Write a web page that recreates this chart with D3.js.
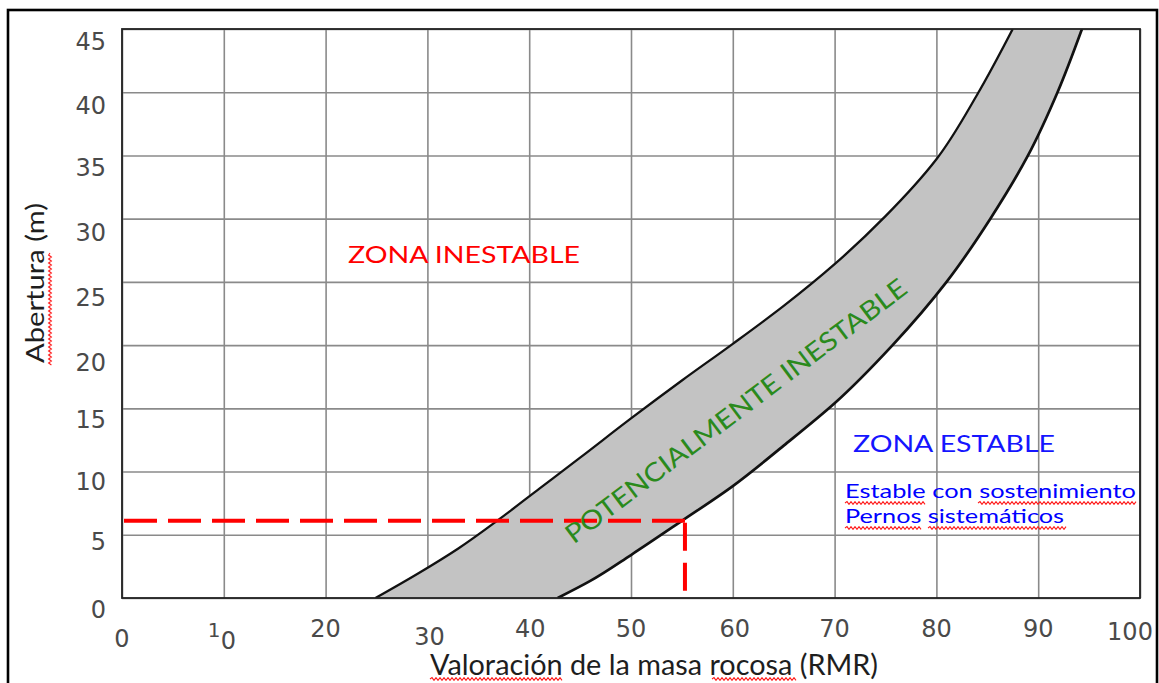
<!DOCTYPE html>
<html>
<head>
<meta charset="utf-8">
<script src="https://cdn.jsdelivr.net/npm/d3@7"></script>
<style>
  html, body { margin: 0; padding: 0; background: #fff; }
  svg { display: block; }
</style>
</head>
<body>
<svg id="chart" width="1159" height="683"></svg>
<script>
// ---------------- DATA ----------------
const xTickValues = [0, 10, 20, 30, 40, 50, 60, 70, 80, 90, 100];
const xTickLabels = ["0", "10", "20", "30", "40", "50", "60", "70", "80", "90", "100"];
const yTickValues = [0, 5, 10, 15, 20, 25, 30, 35, 40, 45];
const yTickLabels = ["0", "5", "10", "15", "20", "25", "30", "35", "40", "45"];

// Upper boundary (unstable / potentially unstable) : [RMR, span]
const upperRMR  = [24.9, 29, 33, 37, 41, 45, 50, 55, 60, 65, 70, 75, 80, 84, 87.5];
const upperSpan = [0, 1.9, 3.9, 6.2, 8.65, 11.1, 14.2, 17.2, 20.1, 23.1, 26.4, 30.2, 34.7, 39.8, 45];
// Lower boundary (potentially unstable / stable)
const lowerRMR  = [42.8, 46, 50, 55, 60, 65, 70, 75.7, 81, 85.3, 89, 91.9, 94.3];
const lowerSpan = [0, 1.35, 3.4, 6.1, 8.85, 12.05, 15.4, 20, 25, 30, 35, 40, 45];

// Design point (red dashed guides)
const designRMR = [55.3];
const designSpan = [6.1];

const xTitle = "Valoración de la masa rocosa (RMR)";
const yTitle = "Abertura (m)";
const zoneUnstable = "ZONA INESTABLE";
const zonePotential = "POTENCIALMENTE INESTABLE";
const zoneStable = "ZONA ESTABLE";
const stableNote1 = "Estable con sostenimiento";
const stableNote2 = "Pernos sistemáticos";

// ---------------- LAYOUT ----------------
const svg = d3.select("#chart");
const X0 = 122, X1 = 1140, Y0 = 598, Y1 = 29;
const x = d3.scaleLinear().domain([0, 100]).range([X0, X1]);
const y = d3.scaleLinear().domain([0, 45]).range([Y0, Y1]);

svg.append("rect").attr("width", 1159).attr("height", 683).attr("fill", "#fff");

// grid
const gridX = svg.append("g")
  .attr("transform", `translate(0,${Y0})`)
  .call(d3.axisBottom(x).tickValues(xTickValues).tickSize(-(Y0 - Y1)).tickFormat(""));
const gridY = svg.append("g")
  .attr("transform", `translate(${X0},0)`)
  .call(d3.axisLeft(y).tickValues(yTickValues).tickSize(-(X1 - X0)).tickFormat(""));
[gridX, gridY].forEach(g => {
  g.select(".domain").remove();
  g.selectAll("line").attr("stroke", "#8a8a8a").attr("stroke-width", 1.6);
});

// clip
svg.append("clipPath").attr("id", "plotClip")
  .append("rect").attr("x", X0).attr("y", Y1).attr("width", X1 - X0).attr("height", Y0 - Y1);

// band
const upperPts = upperRMR.map((v, i) => [v, upperSpan[i]]);
const lowerPts = lowerRMR.map((v, i) => [v, lowerSpan[i]]);
const line = d3.line().x(d => x(d[0])).y(d => y(d[1])).curve(d3.curveMonotoneY);
const bandD = line(upperPts) + "L" + line(lowerPts.slice().reverse()).slice(1) + "Z";
const plot = svg.append("g").attr("clip-path", "url(#plotClip)");
plot.append("path").attr("d", bandD).attr("fill", "#c3c3c3").attr("stroke", "none");
plot.append("path").attr("d", line(upperPts)).attr("fill", "none").attr("stroke", "#111").attr("stroke-width", 2.3);
plot.append("path").attr("d", line(lowerPts)).attr("fill", "none").attr("stroke", "#111").attr("stroke-width", 2.7);

// plot frame
svg.append("rect").attr("x", X0).attr("y", Y1).attr("width", X1 - X0).attr("height", Y0 - Y1)
  .attr("fill", "none").attr("stroke", "#222").attr("stroke-width", 1.8);

// red dashed design lines
svg.append("line")
  .attr("x1", x(0) + 2).attr("x2", x(designRMR[0]))
  .attr("y1", y(designSpan[0])).attr("y2", y(designSpan[0]))
  .attr("stroke", "#ff0000").attr("stroke-width", 4).attr("stroke-dasharray", "33 11");
svg.append("line")
  .attr("x1", x(designRMR[0])).attr("x2", x(designRMR[0]))
  .attr("y1", y(designSpan[0]) + 2).attr("y2", y(0) + 4)
  .attr("stroke", "#ff0000").attr("stroke-width", 4).attr("stroke-dasharray", "28 12");

// tick labels
const tickFont = "'DejaVu Sans', sans-serif";
const tickColor = "#4a4a4a";
const xBase = {0: 647, 30: 645, 100: 640};
const xShift = {30: 2, 40: 1, 60: 2, 100: -10};
xTickValues.forEach((v, i) => {
  const t = svg.append("text")
    .attr("font-family", tickFont).attr("font-size", 24).attr("fill", tickColor)
    .attr("text-anchor", "middle");
  if (xTickLabels[i] === "10") {
    t.attr("text-anchor", "start");
    t.append("tspan").attr("x", x(v) - 16).attr("y", 637).attr("font-size", 20).text(xTickLabels[i][0]);
    t.append("tspan").attr("x", x(v) - 3).attr("y", 649).text(xTickLabels[i].slice(1));
  } else {
    t.attr("x", x(v) + (xShift[v] || 0)).attr("y", xBase[v] !== undefined ? xBase[v] : 637).text(xTickLabels[i]);
  }
});
const yOff = {0: 20, 5: 15, 10: 18, 15: 20, 20: 26, 25: 24, 30: 22, 35: 21, 40: 22, 45: 21};
yTickValues.forEach((v, i) => {
  svg.append("text")
    .attr("font-family", tickFont).attr("font-size", 24).attr("fill", tickColor)
    .attr("text-anchor", "end")
    .attr("x", 106).attr("y", y(v) + yOff[v])
    .text(yTickLabels[i]);
});

// wavy underline helpers
function wavy(x1, x2, yy) {
  let d = `M${x1},${yy}`;
  let up = true;
  for (let xx = x1 + 2; xx <= x2; xx += 2) {
    d += `L${xx},${yy + (up ? -1.4 : 1.4)}`;
    up = !up;
  }
  svg.append("path").attr("d", d).attr("fill", "none").attr("stroke", "#ff1a1a").attr("stroke-width", 1.1);
}
function wavyV(xx, y1, y2) {
  let d = `M${xx},${y1}`;
  let up = true;
  for (let yy = y1 + 2; yy <= y2; yy += 2) {
    d += `L${xx + (up ? -1.4 : 1.4)},${yy}`;
    up = !up;
  }
  svg.append("path").attr("d", d).attr("fill", "none").attr("stroke", "#ff1a1a").attr("stroke-width", 1.1);
}

const textFont = "Lato, 'Open Sans', sans-serif";

// axis titles
svg.append("text")
  .attr("font-family", textFont).attr("font-size", 29).attr("fill", "#1e1e1e")
  .attr("x", 430).attr("y", 675).attr("textLength", 448).attr("lengthAdjust", "spacingAndGlyphs")
  .text(xTitle);
wavy(430, 563, 679);
wavy(712, 797, 679);

svg.append("text")
  .attr("font-family", textFont).attr("font-size", 25).attr("fill", "#1e1e1e")
  .attr("transform", "translate(44,363) rotate(-90)")
  .attr("x", 0).attr("y", 0).attr("textLength", 160).attr("lengthAdjust", "spacingAndGlyphs")
  .text(yTitle);
wavyV(50, 253, 365);

// zone labels
svg.append("text")
  .attr("font-family", textFont).attr("font-size", 23).attr("fill", "#ff0000")
  .attr("x", 348).attr("y", 263).attr("textLength", 232).attr("lengthAdjust", "spacingAndGlyphs")
  .text(zoneUnstable);

svg.append("text")
  .attr("font-family", textFont).attr("font-size", 23).attr("fill", "#1515ff")
  .attr("x", 853).attr("y", 452).attr("textLength", 202).attr("lengthAdjust", "spacingAndGlyphs")
  .text(zoneStable);

svg.append("text")
  .attr("font-family", textFont).attr("font-size", 20).attr("fill", "#0000ff")
  .attr("x", 845).attr("y", 498).attr("textLength", 291).attr("lengthAdjust", "spacingAndGlyphs")
  .text(stableNote1);
svg.append("text")
  .attr("font-family", textFont).attr("font-size", 20).attr("fill", "#0000ff")
  .attr("x", 845).attr("y", 523).attr("textLength", 219).attr("lengthAdjust", "spacingAndGlyphs")
  .text(stableNote2);
wavy(845, 926, 503);
wavy(978, 1137, 503);
wavy(845, 922, 528);
wavy(928, 1066, 528);

svg.append("text")
  .attr("font-family", textFont).attr("font-size", 26).attr("fill", "#2a8a1c")
  .attr("text-anchor", "middle")
  .attr("transform", "translate(736,411) rotate(-37)")
  .attr("x", 0).attr("y", 9).attr("textLength", 420).attr("lengthAdjust", "spacingAndGlyphs")
  .text(zonePotential);

// outer frame
svg.append("rect").attr("x", 1158).attr("y", 0).attr("width", 10).attr("height", 683).attr("fill", "#fff");
svg.append("rect").attr("x", 8).attr("y", 10).attr("width", 1149).attr("height", 700)
  .attr("fill", "none").attr("stroke", "#000").attr("stroke-width", 2.6);
</script>
</body>
</html>
